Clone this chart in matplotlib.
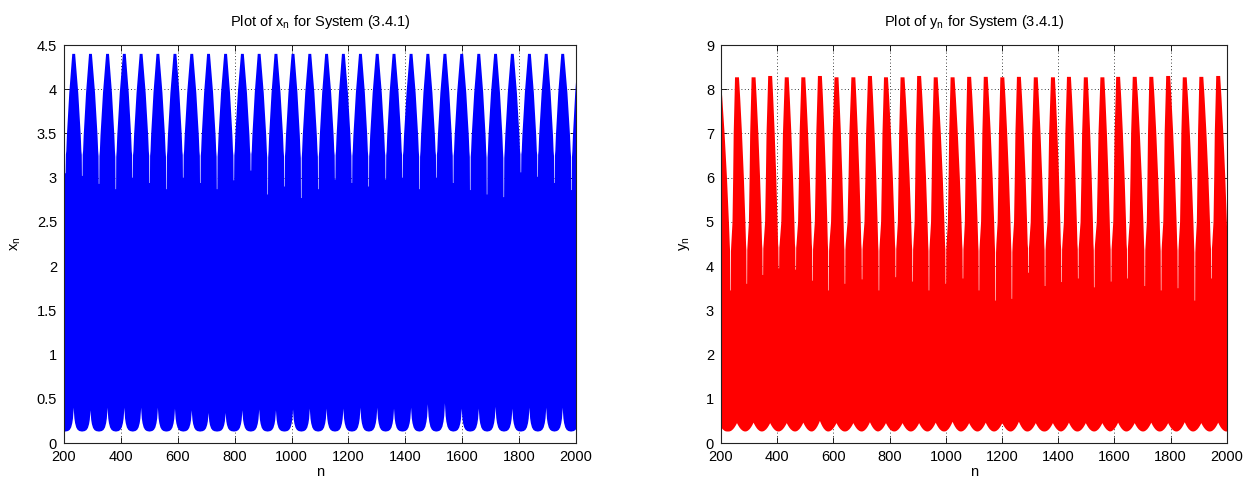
import numpy as np
import matplotlib
matplotlib.use("Agg")
import matplotlib.pyplot as plt

plt.rcParams['font.family'] = ['Liberation Sans', 'DejaVu Sans']
plt.rcParams['mathtext.default'] = 'regular'

# ---------------- data ----------------
n_limits = [200, 2000]
x_ticks = [200, 400, 600, 800, 1000, 1200, 1400, 1600, 1800, 2000]
x_yticks = [0, 0.5, 1, 1.5, 2, 2.5, 3, 3.5, 4, 4.5]
y_yticks = [0, 1, 2, 3, 4, 5, 6, 7, 8, 9]

# x_n : upper envelope peaks / notches, lower envelope spikes
x_peak_n = [175, 234, 293, 353, 412, 471, 530, 590, 649, 708, 768, 827, 886, 945, 1005,
            1064, 1123, 1182, 1242, 1301, 1360, 1420, 1479, 1539, 1598, 1658, 1717,
            1776, 1836, 1895, 1953, 2012]
x_peak_val = [4.40, 4.40, 4.40, 4.40, 4.40, 4.40, 4.40, 4.40, 4.40, 4.40, 4.40, 4.40,
              4.40, 4.40, 4.40, 4.40, 4.40, 4.40, 4.40, 4.40, 4.40, 4.40, 4.40, 4.40,
              4.40, 4.40, 4.40, 4.40, 4.40, 4.40, 4.40, 4.40]
x_notch_n = [205, 264, 323, 382, 441, 501, 560, 619, 679, 738, 797, 857, 916, 975, 1034,
             1094, 1153, 1212, 1271, 1331, 1390, 1450, 1509, 1568, 1628, 1687, 1746,
             1806, 1865, 1924, 1984]
x_notch_val = [3.05, 3.02, 2.93, 2.87, 3.00, 2.94, 2.87, 3.00, 2.94, 2.87, 2.97, 3.08,
               2.81, 2.90, 2.77, 2.87, 2.98, 2.94, 2.90, 2.98, 3.00, 2.87, 3.00, 2.94,
               2.86, 2.81, 2.78, 3.06, 3.01, 2.94, 2.86]
x_low_val = [0.38, 0.40, 0.37, 0.40, 0.40, 0.40, 0.40, 0.39, 0.37, 0.34, 0.34, 0.37,
             0.38, 0.37, 0.38, 0.39, 0.39, 0.39, 0.40, 0.40, 0.39, 0.40, 0.44, 0.45,
             0.39, 0.39, 0.41, 0.39, 0.40, 0.40, 0.40, 0.38]
x_floor = 0.13

# y_n
y_peak_n = [192, 257, 316, 375, 434, 493, 552, 611, 671, 730, 787, 846, 905, 964, 1024,
            1083, 1142, 1201, 1260, 1320, 1381, 1438, 1498, 1557, 1613, 1672, 1731,
            1791, 1850, 1909, 1969, 2028]
y_peak_val = [8.28, 8.27, 8.27, 8.30, 8.27, 8.27, 8.30, 8.27, 8.27, 8.30, 8.27, 8.27,
              8.30, 8.27, 8.27, 8.28, 8.28, 8.27, 8.28, 8.27, 8.27, 8.28, 8.27, 8.27,
              8.28, 8.28, 8.28, 8.30, 8.27, 8.28, 8.30, 8.28]
y_notch_n = [234, 292, 349, 406, 466, 526, 583, 641, 702, 762, 822, 882, 940, 1000, 1061,
             1118, 1177, 1235, 1294, 1353, 1412, 1471, 1528, 1588, 1646, 1708, 1766,
             1826, 1886, 1945, 2005]
y_notch_val = [3.45, 3.60, 3.80, 3.95, 3.92, 3.67, 3.45, 3.60, 3.70, 3.45, 3.75, 3.65,
               3.45, 3.60, 3.72, 3.45, 3.22, 3.26, 3.85, 3.55, 3.64, 3.72, 3.52, 3.65,
               3.72, 3.55, 3.45, 3.50, 3.22, 3.72, 3.50]
y_low_val = [0.45, 0.45, 0.46, 0.45, 0.45, 0.46, 0.50, 0.45, 0.45, 0.47, 0.45, 0.45,
             0.45, 0.46, 0.48, 0.45, 0.46, 0.45, 0.48, 0.45, 0.45, 0.46, 0.45, 0.45,
             0.46, 0.45, 0.46, 0.45, 0.47, 0.45, 0.46, 0.45]
y_floor = 0.26

# ---------------- envelope shapes (style) ----------------
def upper_envelope(peaks, tops, notches, dvals, w, g, V, fall_t, fall_f, rise_t, rise_f):
    xs, ys = [peaks[0] - w], [tops[0]]
    for i in range(len(peaks) - 1):
        p, T = peaks[i], tops[i]
        b, d = notches[i], dvals[i]
        q, T2 = peaks[i + 1], tops[i + 1]
        xs.append(p + w); ys.append(T)
        x0, x1 = p + w, b - g
        for t, f in zip(fall_t[1:-1], fall_f[1:-1]):
            xs.append(x0 + t * (x1 - x0)); ys.append(V + f * (T - V))
        xs += [b - g, b - 1.6, b - 1.0, b + 1.0, b + 1.6, b + g]
        ys += [V, V - 0.15 * (V - d), d, d, V - 0.15 * (V - d), V]
        x0, x1 = b + g, q - w
        for t, f in zip(rise_t[1:-1], rise_f[1:-1]):
            xs.append(x0 + t * (x1 - x0)); ys.append(V + f * (T2 - V))
        xs.append(q - w); ys.append(T2)
    xs.append(peaks[-1] + w); ys.append(tops[-1])
    return np.array(xs), np.array(ys)


def lower_envelope(spikes, heights, base, d_tab, f_tab):
    offs = np.concatenate([-np.array(d_tab[::-1]), np.array(d_tab[1:])])
    xs = np.unique(np.concatenate([s + offs for s in spikes]))
    ys = np.full(xs.shape, base, dtype=float)
    for s, h in zip(spikes, heights):
        ys = np.maximum(ys, base + (h - base) * np.interp(np.abs(xs - s), d_tab, f_tab))
    return xs, ys


def draw(ax, up, low, color):
    xu, yu = up
    xl, yl = low
    px = np.concatenate([xu, [xu[-1], xl[-1]], xl[::-1], [xl[0], xu[0]]])
    py = np.concatenate([yu, [yu[-1], yl[-1]], yl[::-1], [yl[0], yu[0]]])
    ax.fill(px, py, color=color, linewidth=0, zorder=2)


fig = plt.figure(figsize=(12.48, 4.82), dpi=100)
ax1 = fig.add_axes([0.0513, 0.0809, 0.4103, 0.8257])
ax2 = fig.add_axes([0.5777, 0.0809, 0.4054, 0.8257])

up1 = upper_envelope(x_peak_n, x_peak_val, x_notch_n, x_notch_val, 5, 3.0, 3.3,
                     [0, 0.5, 0.9, 1], [1, 0.6, 0.16, 0],
                     [0, 0.1, 0.5, 1], [0, 0.16, 0.6, 1])
low1 = lower_envelope(x_peak_n, x_low_val, x_floor,
                      [0, 1, 2.5, 5, 9, 14, 20, 28], [1, 0.8, 0.55, 0.35, 0.17, 0.07, 0.02, 0])
draw(ax1, up1, low1, '#0000ff')

up2 = upper_envelope(y_peak_n, y_peak_val, y_notch_n, y_notch_val, 7, 2.8, 4.5,
                     [0, 0.18, 0.43, 0.69, 0.91, 1], [1, 0.87, 0.66, 0.40, 0.13, 0],
                     [0, 0.32, 0.5, 0.64, 0.93, 1], [0, 0.13, 0.40, 0.66, 0.93, 1])
low2 = lower_envelope(y_peak_n, y_low_val, y_floor,
                      [0, 2, 5, 9, 14, 20, 25, 29.5], [1, 0.87, 0.69, 0.48, 0.27, 0.10, 0.02, 0])
draw(ax2, up2, low2, '#ff0000')

FS = 10.5
for ax, yt, ylim, ylab, title in [
        (ax1, x_yticks, (0, 4.5), 'x$_n$', 'Plot of x$_n$ for System (3.4.1)'),
        (ax2, y_yticks, (0, 9), 'y$_n$', 'Plot of y$_n$ for System (3.4.1)')]:
    ax.set_xlim(*n_limits)
    ax.set_ylim(*ylim)
    ax.set_xticks(x_ticks)
    ax.set_yticks(yt)
    ax.set_yticklabels([('%g' % v) for v in yt])
    ax.set_axisbelow(True)
    ax.grid(True, linestyle=(0, (1, 3)), color='black', linewidth=0.6)
    ax.tick_params(direction='in', length=4, width=0.6, top=True, right=True,
                   labelsize=FS, colors='black')
    ax.tick_params(axis='x', pad=5)
    ax.tick_params(axis='y', pad=5)
    for sp in ax.spines.values():
        sp.set_linewidth(0.8)
        sp.set_color('#222222')
        sp.set_zorder(5)
    ax.set_xlabel('n', fontsize=FS, labelpad=1)
    ax.set_ylabel(ylab, fontsize=FS, labelpad=10)
    ax.set_title(title, fontsize=FS, pad=14)

fig.savefig('out.png', dpi=100)
